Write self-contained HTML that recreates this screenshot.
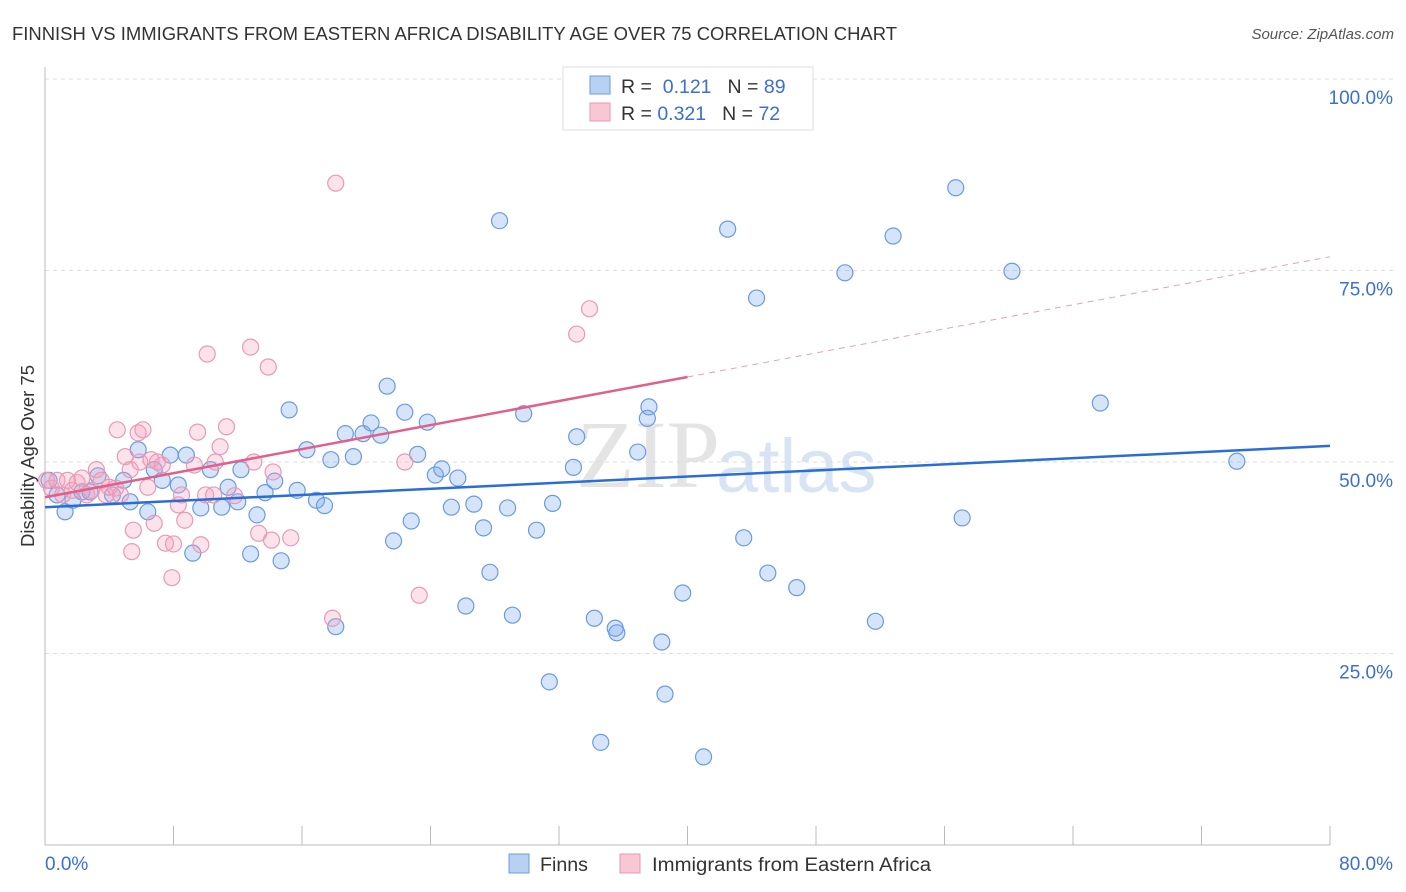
<!DOCTYPE html>
<html><head><meta charset="utf-8">
<style>
body{margin:0;background:#fff;font-family:"Liberation Sans",sans-serif;}
svg{display:block}
</style></head>
<body>
<svg id="chart" width="1406" height="892">
<text x="12" y="40" font-size="18" fill="#333" textLength="885" lengthAdjust="spacingAndGlyphs">FINNISH VS IMMIGRANTS FROM EASTERN AFRICA DISABILITY AGE OVER 75 CORRELATION CHART</text>
<text x="1394" y="39" font-size="15" fill="#555" font-style="italic" text-anchor="end">Source: ZipAtlas.com</text>
<text x="720" y="487" font-size="96" font-family="Liberation Serif" fill="#e4e4e4" text-anchor="end">ZIP</text>
<text x="716" y="492" font-size="76" fill="#d8e4f4">atlas</text>
<text transform="translate(34,456) rotate(-90)" font-size="18.5" fill="#333" text-anchor="middle">Disability Age Over 75</text>
<g id="grid"></g><g id="pts"></g><g id="lines"></g>
<g>
<rect x="563" y="67" width="250" height="63" fill="#fff" stroke="#ddd"/>
<rect x="590" y="76" width="20" height="18" fill="#b8d0f2" stroke="#6a9be0"/>
<rect x="590" y="103" width="20" height="18" fill="#f8c6d5" stroke="#e89ab4"/>
<text x="621" y="93" font-size="19.5" fill="#333">R = <tspan fill="#3b6fd1">&#160;0.121</tspan><tspan dx="16">N = </tspan><tspan fill="#3b6fd1">89</tspan></text>
<text x="621" y="120" font-size="19.5" fill="#333">R = <tspan fill="#3b6fd1">0.321</tspan><tspan dx="16">N = </tspan><tspan fill="#3b6fd1">72</tspan></text>
</g>
<g>
<rect x="509" y="854" width="20" height="19" fill="#b8d0f2" stroke="#6a9be0"/>
<text x="540" y="871" font-size="19" fill="#333" textLength="48" lengthAdjust="spacingAndGlyphs">Finns</text>
<rect x="620" y="854" width="20" height="19" fill="#f8c6d5" stroke="#e89ab4"/>
<text x="652" y="871" font-size="19" fill="#333" textLength="279" lengthAdjust="spacingAndGlyphs">Immigrants from Eastern Africa</text>
</g>
</svg>
<script>
const yTicks=[25,50,75,100];
const yTickLabels=["25.0%","50.0%","75.0%","100.0%"];
const xTicks=[0,8,16,24,32,40,48,56,64,72,80];
const finnsX=[0.25,0.75,1.25,1.74,2.3,2.8,3.3,4.2,4.9,5.3,5.8,6.4,6.8,7.3,7.8,8.3,8.8,9.2,9.7,10.3,11.0,11.4,12.0,12.2,12.8,13.2,13.7,14.3,14.7,15.2,15.7,16.3,16.9,17.4,17.8,18.1,18.7,19.2,19.8,20.3,20.9,21.3,21.7,22.4,22.8,23.2,23.8,24.3,24.7,25.3,25.7,26.2,26.7,27.3,27.7,28.3,28.8,29.1,29.8,30.6,31.4,31.6,32.9,33.1,34.2,34.6,35.5,35.6,36.9,37.5,37.6,38.4,38.6,39.7,41.0,42.5,43.5,44.3,45.0,46.8,49.8,51.7,52.8,56.7,57.1,60.2,65.7,74.2];
const finnsY=[47.6,45.7,43.5,45.0,46.1,46.1,48.2,45.7,47.6,44.8,51.6,43.5,49.0,47.6,50.9,47.0,50.9,38.1,44.0,49.0,44.1,46.7,44.8,49.0,38.0,43.1,46.0,47.5,37.1,56.8,46.3,51.6,45.0,44.3,50.3,28.5,53.7,50.7,53.7,55.1,53.5,59.9,39.7,56.5,42.3,51.0,55.2,48.3,49.1,44.1,47.9,31.2,44.5,41.4,35.6,81.5,44.0,30.0,56.3,41.1,21.3,44.6,49.3,53.3,29.6,13.4,28.3,27.7,51.3,55.7,57.2,26.5,19.7,32.9,11.5,80.4,40.1,71.4,35.5,33.6,74.7,29.2,79.5,85.8,42.7,74.9,57.7,50.1];
const eafX=[0.1,0.4,0.75,1.1,1.4,1.7,2.0,2.3,2.6,2.9,3.2,3.5,3.8,4.0,4.4,4.5,4.7,5.0,5.3,5.4,5.5,5.8,5.9,6.1,6.4,6.6,6.8,7.0,7.3,7.5,7.9,8.0,8.3,8.5,8.7,9.3,9.5,9.7,10.1,10.0,10.5,10.6,10.9,11.3,11.8,12.8,13.0,13.3,13.9,14.1,14.2,15.3,17.9,18.1,22.4,23.3,33.1,33.9];
const eafY=[47.6,46.6,47.6,45.7,47.6,46.3,47.3,47.9,45.7,46.3,49.0,47.6,45.7,46.7,46.6,54.2,45.7,50.7,49.0,38.3,41.1,53.8,50.0,54.2,46.7,50.3,42.0,50.0,49.6,39.4,34.9,39.3,44.4,45.7,42.4,49.6,53.9,39.2,64.1,45.7,45.7,50.0,52.0,54.6,45.6,65.0,50.0,40.7,62.4,39.8,48.7,40.1,29.6,86.4,50.0,32.6,66.7,70.0];
const finnsLine=[44.1,52.1];   // y at x=0, x=80
const eafLine=[45.4,76.8];     // y at x=0, x=80
const eafSolidEnd=40;

const NS="http://www.w3.org/2000/svg";
const X0=45,X1=1330,Y0=845,Y100=79;
const sx=v=>X0+(X1-X0)*v/80;
const sy=v=>Y0-(Y0-Y100)*v/100;
function mk(tag,attrs,parent){const e=document.createElementNS(NS,tag);for(const k in attrs)e.setAttribute(k,attrs[k]);parent.appendChild(e);return e;}
const grid=document.getElementById('grid');
yTicks.forEach((t,i)=>{
  const l=mk('line',{x1:X0,x2:1394,y1:sy(t),y2:sy(t),stroke:'#ddd','stroke-dasharray':'4,4'},grid);
  
  
  const tx=mk('text',{x:1393,y:sy(t)+25,'font-size':19,fill:'#3b6fd1','text-anchor':'end'},grid);
  tx.textContent=yTickLabels[i];
  
  
});
const ax=mk('line',{x1:X0,x2:X0,y1:67,y2:Y0,stroke:'#bbb'},grid);


const bx=mk('line',{x1:X0,x2:X1,y1:Y0,y2:Y0,stroke:'#bbb'},grid);


xTicks.forEach(t=>{
  const l=mk('line',{x1:sx(t),x2:sx(t),y1:826,y2:Y0,stroke:'#bbb'},grid);
  
  
});
const xl0=mk('text',{x:45,y:870,'font-size':19,fill:'#3b6fd1'},grid);xl0.textContent='0.0%';


const xl1=mk('text',{x:1393,y:870,'font-size':19,fill:'#3b6fd1','text-anchor':'end'},grid);xl1.textContent='80.0%';


const pts=document.getElementById('pts');
finnsX.forEach((x,i)=>{
  const c=mk('circle',{cx:sx(x),cy:sy(finnsY[i]),r:8,fill:'rgba(120,165,235,0.3)',stroke:'#6a9be0','stroke-width':1.2},pts);
  
  
});
eafX.forEach((x,i)=>{
  const c=mk('circle',{cx:sx(x),cy:sy(eafY[i]),r:8,fill:'rgba(245,160,190,0.3)',stroke:'#e89ab4','stroke-width':1.2},pts);
  
  
});
const lines=document.getElementById('lines');
const fl=mk('line',{x1:sx(0),y1:sy(finnsLine[0]),x2:sx(80),y2:sy(finnsLine[1]),stroke:'#2b6dd6','stroke-width':2.5},lines);


const ey=x=>eafLine[0]+(eafLine[1]-eafLine[0])*x/80;
const el1=mk('line',{x1:sx(0),y1:sy(ey(0)),x2:sx(eafSolidEnd),y2:sy(ey(eafSolidEnd)),stroke:'#e0608a','stroke-width':2.5},lines);


const el2=mk('line',{x1:sx(eafSolidEnd),y1:sy(ey(eafSolidEnd)),x2:sx(80),y2:sy(ey(80)),stroke:'#e8a0b8','stroke-width':1,'stroke-dasharray':'6,5'},lines);


</script>
</body></html>
